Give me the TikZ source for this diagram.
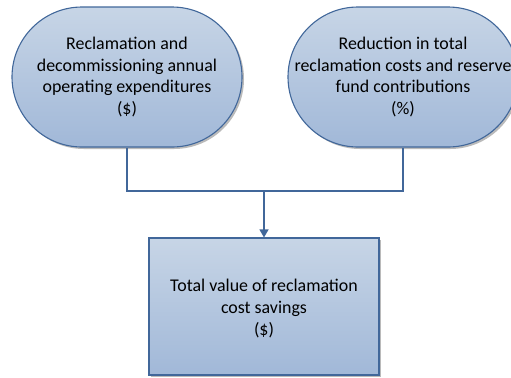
\documentclass[tikz,border=0pt]{standalone}
\usepackage{fontspec}
\setmainfont{Carlito}
\usetikzlibrary{shapes.misc,arrows.meta,shadows}
\definecolor{edgeblue}{HTML}{41679A}
\definecolor{filltop}{HTML}{C7D5E6}
\definecolor{fillbot}{HTML}{A1B8D8}
\definecolor{shadowgray}{HTML}{8C8C8C}
\tikzset{
  shapebase/.style={draw=edgeblue, line width=1.1bp,
    top color=filltop, bottom color=fillbot,
    drop shadow={shadow xshift=2bp, shadow yshift=-2bp, fill=shadowgray, opacity=0.6}},
  inputbox/.style={shapebase, rounded rectangle, minimum width=230bp, minimum height=140bp, inner sep=0pt},
  resultbox/.style={shapebase, rectangle, minimum width=230bp, minimum height=137bp, inner sep=0pt},
  label text/.style={align=center, inner sep=0pt, text=black,
    font=\fontsize{17.9bp}{21.8bp}\selectfont},
  link/.style={draw=edgeblue, line width=1.3bp},
  linkshadow/.style={draw=shadowgray!60, line width=1.3bp},
}
\begin{document}
\begin{tikzpicture}[x=1bp, y=-1bp]
  \useasboundingbox (0,0) rectangle (511,377);

  % input quantities
  \node[inputbox] (L) at (127,77) {};
  \node[label text] (Ltxt) at (L.center) {Reclamation and\\decommissioning annual\\operating expenditures\\(\$)};
  \node[inputbox] (R) at (403,77) {};
  \node[label text] (Rtxt) at (R.center) {Reduction in total\\reclamation costs and reserve\\fund contributions\\(\%)};

  % result
  \node[resultbox] (T) at (264,306.5) {};
  \node[label text] (Ttxt) at ([yshift=-2bp]T.center) {Total value of reclamation\\cost savings\\(\$)};

  % elbow connector joining both inputs
  \coordinate (J) at (T.north |- 0,191);
  \begin{scope}[xshift=2bp, yshift=-2bp]
    \draw[linkshadow] (L.south) |- (J) -| (R.south);
    \draw[linkshadow] (J) -- ([yshift=4bp]T.north);
  \end{scope}
  \draw[link] (L.south) |- (J) -| (R.south);
  \draw[link, -{Triangle[length=8bp, width=9bp]}] (J) -- (T.north);
\end{tikzpicture}
\end{document}
